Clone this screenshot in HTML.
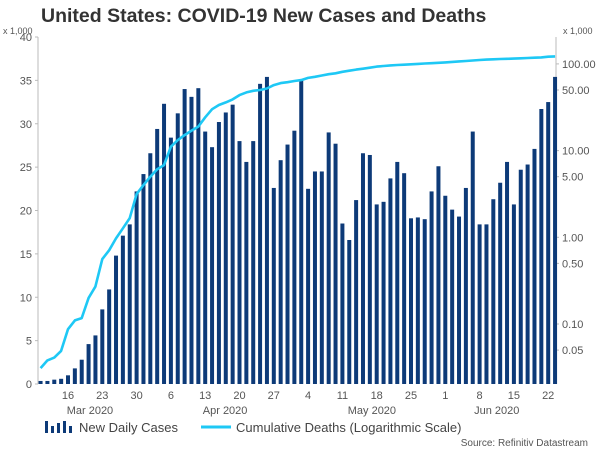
<!DOCTYPE html>
<html><head><meta charset="utf-8"><style>
body{margin:0;background:#fff;}
svg text{font-family:"Liberation Sans",Arial,sans-serif;}
</style></head><body>
<svg id="chart" width="600" height="450" viewBox="0 0 600 450" xmlns="http://www.w3.org/2000/svg">
<text x="41" y="22" font-size="19.5" font-weight="bold" fill="#333">United States: COVID-19 New Cases and Deaths</text>
<text x="3" y="34" font-size="9" fill="#555">x 1,000</text>
<text x="563" y="34" font-size="9" fill="#555">x 1,000</text>
<g id="axes"></g>
<g id="bars"></g>
<g id="line"></g>
<g>
<g fill="#0d3a78">
<rect x="45" y="421" width="3" height="12"/><rect x="51" y="426" width="3" height="7"/><rect x="57" y="423" width="3" height="10"/><rect x="63" y="421" width="3" height="12"/><rect x="69" y="426" width="3" height="7"/></g>
<text x="79" y="432" font-size="13" fill="#444">New Daily Cases</text>
<line x1="201" y1="427" x2="231" y2="427" stroke="#1ec8f5" stroke-width="3"/>
<text x="236" y="432" font-size="13" fill="#444">Cumulative Deaths (Logarithmic Scale)</text>
</g>
<text x="588" y="446" font-size="10" fill="#555" text-anchor="end">Source: Refinitiv Datastream</text>
</svg>
<script>
const dayLabels=["16","23","30","6","13","20","27","4","11","18","25","1","8","15","22"];
const monthLabels=["Mar 2020","Apr 2020","May 2020","Jun 2020"];
const monthPos=[7.2,26.9,48.3,66.5];
const leftTicks=[0,5,10,15,20,25,30,35,40];
const rightTicks=[0.05,0.1,0.5,1,5,10,50,100];
const rightTickLabels=["0.05","0.10","0.50","1.00","5.00","10.00","50.00","100.00"];
const cases=[0.35,0.35,0.5,0.6,
1.0,1.8,2.8,4.6,5.6,
8.6,10.9,14.8,17.1,18.4,
22.2,24.2,26.6,29.4,32.3,
28.4,31.2,34.0,33.1,34.1,
29.1,27.3,30.2,31.3,32.2,
28.0,25.6,28.0,34.6,35.4,
22.6,25.8,27.6,29.2,35.0,
22.5,24.5,24.5,29.0,27.7,
18.5,16.6,21.2,26.6,26.4,
20.7,21.0,23.7,25.6,24.3,
19.1,19.2,19.0,22.2,25.1,
21.7,20.1,19.3,22.6,29.1,
18.4,18.4,21.3,23.2,25.6,
20.7,24.7,25.3,27.1,31.7,
32.5,35.4];
const deaths=[0.031,0.038,0.041,0.049,
0.087,0.11,0.117,0.20,0.27,
0.56,0.71,0.97,1.27,1.66,
3.15,4.0,5.0,6.1,6.8,
11.1,13.2,15.1,17.0,18.9,
24.2,30,33.6,36,39,
43.7,46.9,49,50,52,
57,60,61.5,63.5,65,
69,71,73.5,76,78,
81,83.5,86,88,90.5,
93,94.5,96,97,98,
99,100,101,102,103,
104,105.5,107,108,109.5,
111,112,113,114,114.5,
115,116,117,118,119,
121,122];
const NS="http://www.w3.org/2000/svg";
function mk(tag,attrs,parent,txt){const e=document.createElementNS(NS,tag);for(const k in attrs)e.setAttribute(k,attrs[k]);if(txt!==undefined)e.textContent=txt;parent.appendChild(e);return e;}
const X0=68,DX=6.86,START=-4;
function xOf(i){return X0+(i+START)*DX;}
function yL(v){return 384-v*8.675;}
function yR(v){return 237.3-Math.log10(v)*86.7;}
const axes=document.getElementById('axes');
const la=mk('line',{x1:38,y1:37,x2:38,y2:384,stroke:'#bbb'},axes);


leftTicks.forEach(v=>{
 mk('line',{x1:35,y1:yL(v),x2:38,y2:yL(v),stroke:'#bbb'},axes);
 const t=mk('text',{x:32,y:yL(v)+4,'font-size':11,fill:'#555','text-anchor':'end'},axes,String(v));
 
 
});
const ra=mk('line',{x1:556,y1:37,x2:556,y2:384,stroke:'#bbb'},axes);


rightTicks.forEach((v,k)=>{
 mk('line',{x1:556,y1:yR(v),x2:559,y2:yR(v),stroke:'#bbb'},axes);
 const t=mk('text',{x:562,y:yR(v)+4,'font-size':11,fill:'#555'},axes,rightTickLabels[k]);
 
 
});
dayLabels.forEach((d,k)=>{
 const x=xOf(-START+k*5);
 const t=mk('text',{x:x,y:399,'font-size':11,fill:'#555','text-anchor':'middle'},axes,d);
 
 
});
monthLabels.forEach((m,k)=>{
 const t=mk('text',{x:xOf(monthPos[k]),y:414,'font-size':11,fill:'#555','text-anchor':'middle'},axes,m);
 
 
});
const bars=document.getElementById('bars');
cases.forEach((v,i)=>{
 const r=mk('rect',{x:xOf(i)-2,y:yL(v),width:4,height:384-yL(v),fill:'#0d3a78'},bars);
 
 
});
const pts=deaths.map((v,i)=>xOf(i).toFixed(1)+','+yR(v).toFixed(1)).join(' ');
const pl=mk('polyline',{points:pts,fill:'none',stroke:'#1ec8f5','stroke-width':2.6,'stroke-linejoin':'round'},document.getElementById('line'));


</script>
</body></html>
